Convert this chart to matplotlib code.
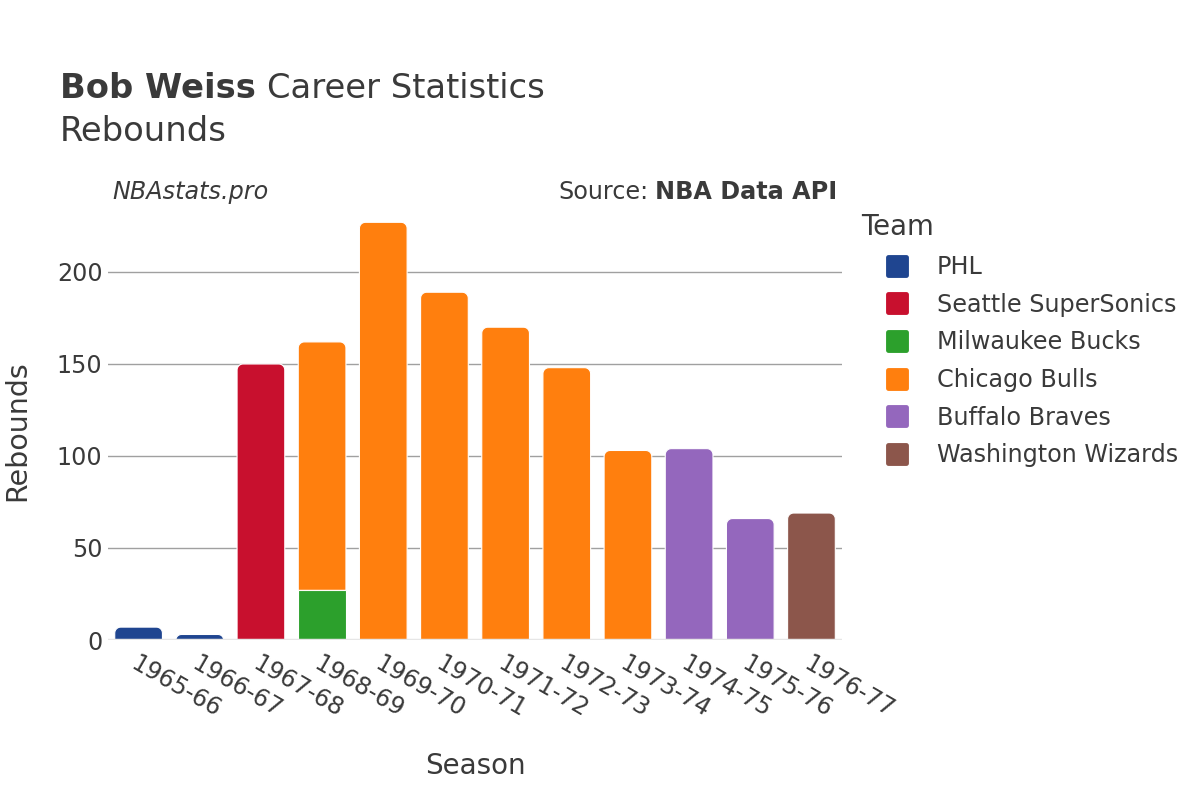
import numpy as np
import matplotlib
matplotlib.use("Agg")
import matplotlib.pyplot as plt
from matplotlib.lines import Line2D
from matplotlib.markers import MarkerStyle
from matplotlib.patches import Polygon

# ── dati ─────────────────────────────────────────────────────
SEASONS = ["1965-66", "1966-67", "1967-68", "1968-69", "1969-70", "1970-71",
           "1971-72", "1972-73", "1973-74", "1974-75", "1975-76", "1976-77"]
TEAMS   = ["PHL", "Seattle SuperSonics", "Milwaukee Bucks", "Chicago Bulls",
           "Buffalo Braves", "Washington Wizards"]
COLORS  = ["#1f4590", "#c8102e", "#2ca02c", "#ff7f0e", "#9467bd", "#8c564b"]

PHL_REB  = [7, 3, 0, 0, 0, 0, 0, 0, 0, 0, 0, 0]
SEA_REB  = [0, 0, 150, 0, 0, 0, 0, 0, 0, 0, 0, 0]
MIL_REB  = [0, 0, 0, 27, 0, 0, 0, 0, 0, 0, 0, 0]
CHI_REB  = [0, 0, 0, 135, 227, 189, 170, 148, 103, 0, 0, 0]
BUF_REB  = [0, 0, 0, 0, 0, 0, 0, 0, 0, 104, 66, 0]
WAS_REB  = [0, 0, 0, 0, 0, 0, 0, 0, 0, 0, 0, 69]
SERIES   = [PHL_REB, SEA_REB, MIL_REB, CHI_REB, BUF_REB, WAS_REB]

YTICKS = [0, 50, 100, 150, 200]
# ────────────────────────────────────────────────────────────

plt.rcParams['font.family'] = ['DejaVu Sans']
TXT = "#3a3a3a"
W, H = 1200, 800
FS = 17.2
RADIUS_PX = 6


def rounded_top(rect, px_x, px_y, r_px=RADIUS_PX, n=10):
    # poligono con angoli superiori arrotondati (raggio in pixel)
    x0, y0, w, h = rect.get_x(), rect.get_y(), rect.get_width(), rect.get_height()
    r = min(r_px, h * px_y, w * px_x / 2)
    rx, ry = r / px_x, r / px_y
    x1, y1 = x0 + w, y0 + h
    t = np.linspace(0, np.pi / 2, n)
    left = np.column_stack([x0 + rx - rx * np.cos(t), y1 - ry + ry * np.sin(t)])
    right = np.column_stack([x1 - rx + rx * np.sin(t), y1 - ry + ry * np.cos(t)])
    pts = np.vstack([[x0, y0], left, right, [x1, y0]])
    return Polygon(pts, closed=True, facecolor=rect.get_facecolor(),
                   edgecolor="white", linewidth=0.8, zorder=3)


fig = plt.figure(figsize=(12, 8), dpi=100)
ax = fig.add_axes([0.09, 0.2, 0.6117, 0.535])
ax.set_xlim(-0.5, len(SEASONS) - 0.5)
ax.set_ylim(0, 232.6)

x = np.arange(len(SEASONS))
width = 0.78
bottom = np.zeros(len(SEASONS))
totals = np.sum(np.array(SERIES, dtype=float), axis=0)
top_rects = []
for vals, color in zip(SERIES, COLORS):
    vals = np.array(vals, dtype=float)
    mask = vals > 0
    bars = ax.bar(x[mask], vals[mask], width, bottom=bottom[mask], color=color,
                  edgecolor="white", linewidth=0.8, zorder=3)
    for rect, xi in zip(bars.patches, x[mask]):
        if np.isclose(rect.get_y() + rect.get_height(), totals[xi]):
            top_rects.append(rect)
    bottom += vals

fig.canvas.draw()
p0 = ax.transData.transform((0, 0))
p1 = ax.transData.transform((1, 1))
px_x, px_y = p1[0] - p0[0], p1[1] - p0[1]
for rect in top_rects:
    rect.set_visible(False)
    ax.add_patch(rounded_top(rect, px_x, px_y))

ax.set_yticks(YTICKS)
ax.set_yticklabels([str(v) for v in YTICKS], fontsize=FS, color=TXT)
ax.grid(axis="y", color="#a0a0a0", linewidth=1, zorder=0)
ax.axhline(0, color="#e6e6e6", linewidth=2.5, zorder=4)
for s in ax.spines.values():
    s.set_visible(False)
ax.tick_params(axis="y", length=0, pad=4)

ax.set_xticks(x)
ax.set_xticklabels(SEASONS, rotation=-30, ha="left", va="top",
                   rotation_mode="anchor", fontsize=FS, color=TXT)
ax.tick_params(axis="x", length=0, pad=8)

ax.set_xlabel("Season", fontsize=20, color=TXT)
ax.set_ylabel("Rebounds", fontsize=20.5, color=TXT)
ax.yaxis.set_label_coords(-0.105, 0.49)
ax.xaxis.set_label_coords(0.5, -0.262)

# titoli
t0 = fig.text(0.05, 0.889, "Bob Weiss", fontsize=24.3, fontweight="bold", color=TXT, va="center")
fig.canvas.draw()
bb0 = t0.get_window_extent()
fig.text(bb0.x1 / W + 0.009, 0.889, "Career Statistics", fontsize=24.3, color=TXT, va="center")
fig.text(0.05, 0.836, "Rebounds", fontsize=24.3, color=TXT, va="center")
fig.text(0.094, 0.76, "NBAstats.pro", fontsize=FS, style="italic", color=TXT, va="center")
t1 = fig.text(0.698, 0.76, "NBA Data API", fontsize=FS, fontweight="bold",
              color=TXT, va="center", ha="right")
fig.canvas.draw()
bb1 = t1.get_window_extent()
fig.text(bb1.x0 / W - 0.006, 0.76, "Source:", fontsize=FS, color=TXT, va="center", ha="right")

# legenda
fig.text(861 / W, 1 - 227 / H, "Team", fontsize=19.8, color=TXT, va="center", ha="left")
sq = MarkerStyle("s", joinstyle="round")
handles = [Line2D([0], [0], marker=sq, linestyle="", markersize=13.5, markeredgewidth=3.5,
                  markerfacecolor=c, markeredgecolor=c) for c in COLORS]
leg = fig.legend(handles, TEAMS, loc="upper left", bbox_to_anchor=(0.718, 0.696),
                 frameon=False, fontsize=FS, handletextpad=0.64,
                 labelspacing=0.57, borderpad=0.0, handlelength=2.0)
for t in leg.get_texts():
    t.set_color(TXT)

fig.savefig("out.png", dpi=100, facecolor="white")
